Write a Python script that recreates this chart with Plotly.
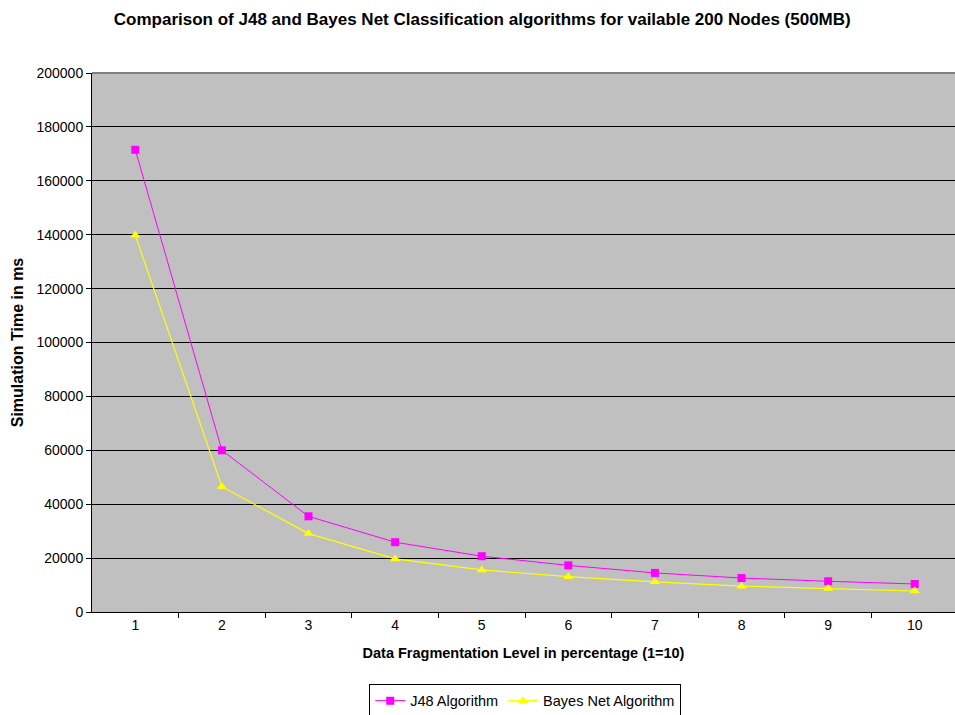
import plotly.graph_objects as go

levels = [1, 2, 3, 4, 5, 6, 7, 8, 9, 10]
j48 = [171500, 60000, 35500, 25900, 20700, 17300, 14500, 12600, 11400, 10400]
bayes = [139800, 46500, 29100, 19700, 15600, 13100, 11200, 9600, 8700, 7800]
y_ticks = [0, 20000, 40000, 60000, 80000, 100000, 120000, 140000, 160000, 180000, 200000]

fig = go.Figure()
fig.add_trace(go.Scatter(
    x=levels, y=j48, name="J48 Algorithm", mode="lines+markers",
    line=dict(color="#FF00FF", width=1),
    marker=dict(symbol="square", size=8, color="#FF00FF"),
))
fig.add_trace(go.Scatter(
    x=levels, y=bayes, name="Bayes Net Algorithm", mode="lines+markers",
    line=dict(color="#FFFF00", width=1.2),
    marker=dict(symbol="triangle-up", size=9, color="#FFFF00"),
))

fig.update_layout(
    width=955, height=715,
    margin=dict(l=92, r=0, t=73, b=103),
    paper_bgcolor="white",
    plot_bgcolor="#C0C0C0",
    font=dict(family="Arial, Liberation Sans, sans-serif", size=14, color="black"),
    title=dict(
        text="<b>Comparison of J48 and Bayes Net Classification algorithms for vailable 200 Nodes (500MB)</b>",
        x=0.505, xanchor="center", y=0.973, yanchor="middle",
        font=dict(size=17, color="black"),
    ),
    showlegend=True,
    legend=dict(
        orientation="h", x=0.502, xanchor="center",
        yref="container", y=0.02, yanchor="middle",
        bordercolor="black", borderwidth=1, bgcolor="white",
        font=dict(size=14.5), itemwidth=30,
    ),
    xaxis=dict(
        range=[0.5, 10.465],
        tickmode="array", tickvals=levels, ticktext=[str(v) for v in levels],
        ticks="", showgrid=False, zeroline=False,
        showline=True, linecolor="black", linewidth=1,
        tickfont=dict(size=14),
        minor=dict(tickmode="array", tickvals=[1.5, 2.5, 3.5, 4.5, 5.5, 6.5, 7.5, 8.5, 9.5, 10.5],
                   ticks="outside", ticklen=5, tickcolor="black", tickwidth=1, showgrid=False),
        title=dict(text="<b>Data Fragmentation Level in percentage (1=10)</b>", font=dict(size=14.5), standoff=16),
    ),
    yaxis=dict(
        range=[0, 200000],
        tickmode="array", tickvals=y_ticks, ticktext=[str(v) for v in y_ticks],
        ticks="outside", ticklen=5, tickcolor="black",
        showgrid=True, gridcolor="black", gridwidth=1,
        zeroline=False, showline=True, linecolor="black", linewidth=1,
        tickfont=dict(size=14),
        title=dict(text="<b>Simulation Time in ms</b>", font=dict(size=16), standoff=8),
    ),
)

# top border of the plot area (gray)
fig.add_shape(type="line", xref="paper", yref="paper", x0=0, x1=1, y0=1, y1=1,
              line=dict(color="#808080", width=2))

fig.write_html("out.html")
